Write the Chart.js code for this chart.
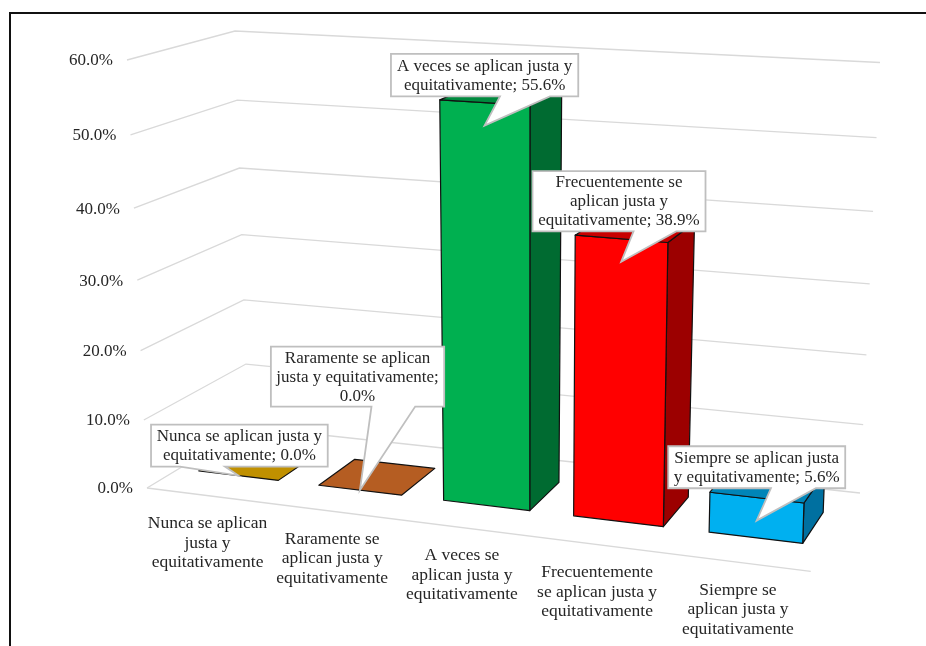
<!DOCTYPE html>
<html>
<head>
<meta charset="utf-8">
<style>html,body{margin:0;padding:0;background:#fff}canvas{display:block}</style>
<script src="https://cdn.jsdelivr.net/npm/chart.js@4/dist/chart.umd.js"></script>
</head>
<body>
<canvas id="c" width="926" height="646"></canvas>
<script>
const categories = [
  "Nunca se aplican justa y equitativamente",
  "Raramente se aplican justa y equitativamente",
  "A veces se aplican justa y equitativamente",
  "Frecuentemente se aplican justa y equitativamente",
  "Siempre se aplican justa y equitativamente"
];
const tickLabels = [
  ["Nunca se aplican", "justa y", "equitativamente"],
  ["Raramente se", "aplican justa y", "equitativamente"],
  ["A veces se", "aplican justa y", "equitativamente"],
  ["Frecuentemente", "se aplican justa y", "equitativamente"],
  ["Siempre se", "aplican justa y", "equitativamente"]
];
const values = [0.0, 0.0, 55.6, 38.9, 5.6];
const frontColors = ["#C09000", "#B55D22", "#00B050", "#FF0000", "#00B0F0"];
const sideColors = ["#8F6B00", "#86451A", "#006B31", "#9C0000", "#0070A0"];
const topColors = ["#C09000", "#B55D22", "#008A3E", "#C80000", "#0085B8"];

// Perspective box of the plot: corners of the floor and of the 60% level.
const frame = {
  flb: [147, 488], frb: [810.7, 571.3], blb: [248, 427], brb: [860, 493],
  flt: [127, 60], frt: [824, 101.5], blt: [235, 31], brt: [880, 62.5]
};
const depthFront = 0.32, depthBack = 0.72, widthWarp = 0.903, heightWarp = 0.945;

// Callout geometry relative to the pointer tip: left, top, width, height, pointer base start, end.
const calloutLayout = [
  [-87.3, -51, 176.7, 42, -58.3, -13.3],
  [-89, -143.6, 173.3, 60, 11.6, 55.3],
  [-93.6, -71.7, 187.3, 42.4, 15.4, 65.4],
  [-88.7, -90.7, 173, 60.3, 12.3, 55],
  [-88.4, -74.3, 177, 42, 14.3, 59.3]
];
const tipDrop = 23;
const fontFamily = "'Liberation Serif'";
const fontSize = 17;
const axisFontSize = 17.5;
const lineGap = 19;
const axisLineGap = 19.3;
const textColor = "#262626";

const lerp = (a, b, k) => a + (b - a) * k;
const lerpPt = (p, q, k) => [lerp(p[0], q[0], k), lerp(p[1], q[1], k)];
function project(u, d, h) {
  const t = widthWarp * u / (1 + (widthWarp - 1) * u);
  const v = heightWarp * h / (1 + (heightWarp - 1) * h);
  const bottom = lerpPt(lerpPt(frame.flb, frame.frb, t), lerpPt(frame.blb, frame.brb, t), d);
  const top = lerpPt(lerpPt(frame.flt, frame.frt, t), lerpPt(frame.blt, frame.brt, t), d);
  return lerpPt(bottom, top, v);
}
const uOf = (chart, px) => (px - chart.scales.x.left) / chart.scales.x.width;
const hOf = (chart, py) => (chart.scales.y.bottom - py) / (chart.scales.y.bottom - chart.scales.y.top);

class PerspectiveLinear extends Chart.LinearScale {
  static id = "perspectiveLinear";
  static defaults = Chart.LinearScale.defaults;
  _computeLabelArea() { return undefined; }
  _computeLabelItems(area) {
    const items = super._computeLabelItems(area);
    items.forEach((it, i) => {
      const p = project(0, 0, hOf(this.chart, this.getPixelForValue(this.ticks[i].value)));
      it.options.translation = [p[0] - 14, p[1] + 1];
      it.options.textAlign = "right";
    });
    return items;
  }
}
class PerspectiveCategory extends Chart.CategoryScale {
  static id = "perspectiveCategory";
  static defaults = Chart.CategoryScale.defaults;
  _computeLabelArea() { return undefined; }
  _computeLabelItems(area) {
    const items = super._computeLabelItems(area);
    items.forEach((it, i) => {
      const p = project(uOf(this.chart, this.getPixelForTick(i)), 0, 0);
      it.options.translation = [p[0], p[1] + 48.5 - 1.5 * axisLineGap];
      it.options.textAlign = "center";
      it.options.textBaseline = "top";
      it.textOffset = 0;
    });
    return items;
  }
}
Chart.register(PerspectiveLinear, PerspectiveCategory);

function poly(ctx, pts, fill, stroke) {
  ctx.beginPath();
  pts.forEach((p, i) => i ? ctx.lineTo(p[0], p[1]) : ctx.moveTo(p[0], p[1]));
  ctx.closePath();
  ctx.fillStyle = fill;
  ctx.fill();
  ctx.lineWidth = 1.2;
  ctx.strokeStyle = stroke;
  ctx.lineJoin = "round";
  ctx.stroke();
}
function wrap(ctx, text, width) {
  const lines = [];
  let cur = "";
  text.split(" ").forEach(w => {
    const next = cur ? cur + " " + w : w;
    if (ctx.measureText(next).width > width && cur) { lines.push(cur); cur = w; }
    else cur = next;
  });
  if (cur) lines.push(cur);
  return lines;
}

const scene = {
  id: "scene",
  beforeDatasetsDraw(chart) {
    const ctx = chart.ctx;
    ctx.save();
    // frame of the picture
    ctx.strokeStyle = "#111";
    ctx.lineWidth = 2;
    ctx.beginPath();
    ctx.moveTo(10, 646);
    ctx.lineTo(10, 13);
    ctx.lineTo(926, 13);
    ctx.stroke();
    // gridlines from the value scale
    const ys = chart.scales.y;
    ctx.strokeStyle = "#D9D9D9";
    ctx.lineWidth = 1.3;
    ys.ticks.forEach(tk => {
      const h = hOf(chart, ys.getPixelForValue(tk.value));
      const a = project(0, 0, h), b = project(0, 1, h), c = project(1, 1, h);
      ctx.beginPath();
      ctx.moveTo(a[0], a[1]);
      ctx.lineTo(b[0], b[1]);
      ctx.lineTo(c[0], c[1]);
      ctx.stroke();
    });
    const f0 = project(0, 0, 0), f1 = project(1, 0, 0);
    ctx.beginPath();
    ctx.moveTo(f0[0], f0[1]);
    ctx.lineTo(f1[0], f1[1]);
    ctx.stroke();
    ctx.restore();
  },
  beforeDatasetDraw(chart, args) {
    const ctx = chart.ctx;
    const ink = "#111";
    ctx.save();
    args.meta.data.forEach((el, i) => {
      const uL = uOf(chart, el.x - el.width / 2), uR = uOf(chart, el.x + el.width / 2);
      const h = hOf(chart, el.y);
      const front = [[uL, depthFront, 0], [uR, depthFront, 0], [uR, depthFront, h], [uL, depthFront, h]];
      const side = [[uR, depthFront, 0], [uR, depthBack, 0], [uR, depthBack, h], [uR, depthFront, h]];
      const top = [[uL, depthFront, h], [uR, depthFront, h], [uR, depthBack, h], [uL, depthBack, h]];
      const P = q => q.map(a => project(a[0], a[1], a[2]));
      if (h > 0) {
        poly(ctx, P(side), sideColors[i], ink);
        poly(ctx, P(front), frontColors[i], ink);
      }
      poly(ctx, P(top), topColors[i], ink);
    });
    ctx.restore();
    return false;
  },
  afterDatasetsDraw(chart) {
    const ctx = chart.ctx;
    const meta = chart.getDatasetMeta(0);
    ctx.save();
    ctx.font = fontSize + "px " + fontFamily;
    meta.data.forEach((el, i) => {
      const val = values[i];
      const tip = project(uOf(chart, el.x), depthFront, hOf(chart, el.y));
      tip[1] += val > 0 ? tipDrop : 0;
      const [dx, dy, w, h, b1, b2] = calloutLayout[i];
      const x = tip[0] + dx, y = tip[1] + dy;
      ctx.beginPath();
      ctx.moveTo(x, y);
      ctx.lineTo(x + w, y);
      ctx.lineTo(x + w, y + h);
      ctx.lineTo(tip[0] + b2, y + h);
      ctx.lineTo(tip[0], tip[1]);
      ctx.lineTo(tip[0] + b1, y + h);
      ctx.lineTo(x, y + h);
      ctx.closePath();
      ctx.fillStyle = "#fff";
      ctx.fill();
      ctx.strokeStyle = "#BFBFBF";
      ctx.lineWidth = 1.8;
      ctx.lineJoin = "miter";
      ctx.stroke();
      const lines = wrap(ctx, categories[i] + "; " + val.toFixed(1) + "%", w - 4);
      ctx.fillStyle = textColor;
      ctx.textAlign = "center";
      ctx.textBaseline = "middle";
      lines.forEach((ln, k) => {
        ctx.fillText(ln, x + w / 2, y + h / 2 + (k - (lines.length - 1) / 2) * lineGap + 0.5);
      });
    });
    ctx.restore();
  }
};

new Chart(document.getElementById("c"), {
  type: "bar",
  data: {
    labels: tickLabels,
    datasets: [{ data: values, backgroundColor: frontColors, barPercentage: 0.667, categoryPercentage: 1 }]
  },
  options: {
    responsive: false,
    animation: false,
    layout: { padding: { left: 60, right: 40, top: 30, bottom: 20 } },
    plugins: { legend: { display: false }, tooltip: { enabled: false } },
    scales: {
      x: {
        type: "perspectiveCategory",
        grid: { display: false },
        border: { display: false },
        ticks: { autoSkip: false, maxRotation: 0, minRotation: 0, color: textColor,
                 font: { family: fontFamily, size: axisFontSize, lineHeight: axisLineGap / axisFontSize } }
      },
      y: {
        type: "perspectiveLinear",
        min: 0,
        max: 60,
        grid: { display: false },
        border: { display: false },
        ticks: { stepSize: 10, color: textColor, callback: v => v.toFixed(1) + "%",
                 font: { family: fontFamily, size: fontSize } }
      }
    }
  },
  plugins: [scene]
});
</script>
</body>
</html>
